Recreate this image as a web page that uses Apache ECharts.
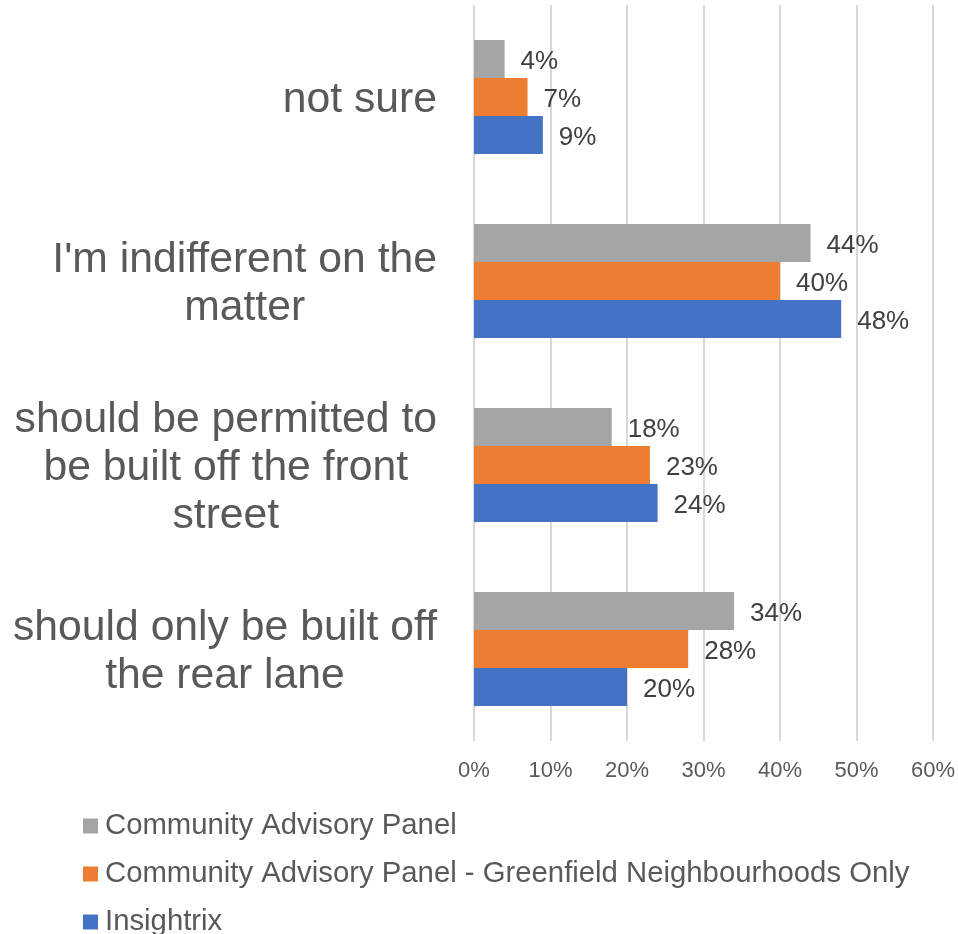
<!DOCTYPE html>
<html>
<head>
<meta charset="utf-8">
<script src="https://cdn.jsdelivr.net/npm/echarts@6/dist/echarts.min.js"></script>
<style>
  html, body { margin: 0; padding: 0; background: #ffffff; }
  #chart { width: 958px; height: 934px; }
</style>
</head>
<body>
<div id="chart"></div>
<script>
// Survey answers, listed bottom to top as drawn on the category axis
const categories = [
  'should only be built off\nthe rear lane',
  'should be permitted to\nbe built off the front\nstreet',
  "I'm indifferent on the\nmatter",
  'not sure'
];

const seriesNames = [
  'Community Advisory Panel',
  'Community Advisory Panel - Greenfield Neighbourhoods Only',
  'Insightrix'
];

// Percent of respondents, same order as categories
const panelAll = [34, 18, 44, 4];
const panelGreenfield = [28, 23, 40, 7];
const insightrix = [20, 24, 48, 9];

const xTicks = [0, 10, 20, 30, 40, 50, 60];

const colors = ['#a5a5a5', '#ed7d31', '#4472c4'];
const FONT = "'Liberation Sans', Arial, sans-serif";

const chart = echarts.init(document.getElementById('chart'), null, { renderer: 'canvas' });

function barSeries(name, data, color) {
  return {
    name: name,
    type: 'bar',
    data: data,
    barWidth: 38,
    barGap: '0%',
    itemStyle: { color: color },
    label: {
      show: true,
      position: 'right',
      distance: 16,
      offset: [0, 3],
      formatter: '{c}%',
      color: '#404040',
      fontSize: 26,
      fontFamily: FONT
    },
    emphasis: { disabled: true },
    animation: false
  };
}

chart.setOption({
  animation: false,
  textStyle: { fontFamily: FONT },
  grid: { left: 474, right: 24, top: 5, bottom: 193, containLabel: false },
  xAxis: {
    type: 'value',
    min: xTicks[0],
    max: xTicks[xTicks.length - 1],
    interval: xTicks[1] - xTicks[0],
    axisLine: { show: false },
    axisTick: { show: false },
    splitLine: { show: true, lineStyle: { color: '#d9d9d9', width: 2 } },
    axisLabel: {
      formatter: '{value}%',
      color: '#595959',
      fontSize: 22,
      fontFamily: FONT,
      margin: 19
    }
  },
  yAxis: {
    type: 'category',
    data: categories,
    axisLine: { show: false },
    axisTick: { show: false },
    axisLabel: {
      margin: 37,
      padding: [6, 0, 0, 0],
      formatter: function (v) {
        return v.split('\n').map(function (s) { return '{c|' + s + '}'; }).join('\n');
      },
      rich: {
        c: {
          fontSize: 42.7,
          lineHeight: 48,
          align: 'center',
          color: '#595959',
          fontFamily: FONT
        }
      }
    }
  },
  legend: {
    orient: 'vertical',
    left: 78,
    top: 806,
    height: 140,
    itemWidth: 15,
    itemHeight: 15,
    itemGap: 18,
    icon: 'rect',
    data: seriesNames,
    textStyle: {
      color: '#595959',
      fontSize: 29.3,
      lineHeight: 30,
      fontFamily: FONT,
      padding: [0, 0, 0, 2]
    }
  },
  series: [
    barSeries(seriesNames[0], panelAll, colors[0]),
    barSeries(seriesNames[1], panelGreenfield, colors[1]),
    barSeries(seriesNames[2], insightrix, colors[2])
  ]
});
</script>
</body>
</html>
